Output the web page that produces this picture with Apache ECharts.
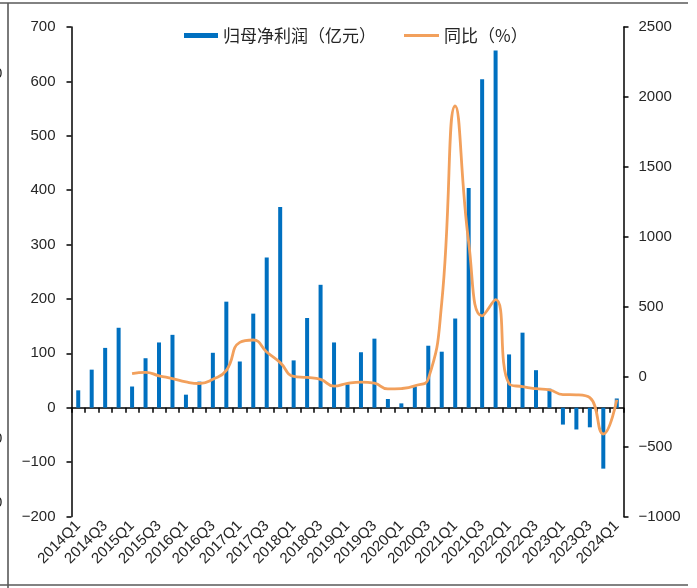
<!DOCTYPE html>
<html>
<head>
<meta charset="utf-8">
<script src="https://cdn.jsdelivr.net/npm/echarts@6/dist/echarts.min.js"></script>
<style>
  html, body { margin: 0; padding: 0; background: #fff; }
  #chart { width: 697px; height: 588px; }
</style>
</head>
<body>
<div id="chart"></div>
<script>
// Quarterly net profit attributable to parent (bars, 亿元) and YoY growth (line, %)
const categories = [
  '2014Q1','2014Q2','2014Q3','2014Q4',
  '2015Q1','2015Q2','2015Q3','2015Q4',
  '2016Q1','2016Q2','2016Q3','2016Q4',
  '2017Q1','2017Q2','2017Q3','2017Q4',
  '2018Q1','2018Q2','2018Q3','2018Q4',
  '2019Q1','2019Q2','2019Q3','2019Q4',
  '2020Q1','2020Q2','2020Q3','2020Q4',
  '2021Q1','2021Q2','2021Q3','2021Q4',
  '2022Q1','2022Q2','2022Q3','2022Q4',
  '2023Q1','2023Q2','2023Q3','2023Q4',
  '2024Q1'
];

const netProfit = [
  32, 70, 110, 147,
  39, 91, 120, 134,
  24, 48, 101, 195,
  85, 173, 276, 369,
  87, 165, 226, 120,
  43, 102, 127, 16,
  8, 39, 114, 103,
  164, 404, 604, 657,
  98, 138, 69, 35,
  -31, -40, -36, -112,
  17
];

const yoyGrowth = [
  null, null, null, null,
  22, 31, 6, -14,
  -38, -49, -19, 45,
  245, 262, 176, 100,
  2, -6, -20, -68,
  -48, -39, -47, -88,
  -85, -66, -16, 530,
  1935, 960, 435, 550,
  -50, -72, -86, -95,
  -128, -130, -150, -410,
  -165
];

const leftAxis = { min: -200, max: 700, interval: 100 };
const rightAxis = { min: -1000, max: 2500, interval: 500 };

const seriesNames = ['归母净利润（亿元）', '同比（%）'];

const barColor = '#0070C0';
const lineColor = '#F2A05C';
const textColor = '#262626';
const numFont = "'Liberation Sans', Arial, sans-serif";
const cjkFont = "'Noto Sans CJK SC', sans-serif";

const minusFmt = v => String(v).replace('-', '\u2212');

const chart = echarts.init(document.getElementById('chart'), null, { renderer: 'canvas' });

chart.setOption({
  animation: false,
  backgroundColor: '#ffffff',
  grid: { left: 71.5, right: 73.5, top: 27, bottom: 71.5, containLabel: false },
  legend: [
    {
      data: [{ name: seriesNames[0], icon: 'rect' }],
      left: 184, top: 27, padding: 0,
      itemWidth: 34, itemHeight: 5, itemGap: 4,
      textStyle: { fontFamily: cjkFont, fontSize: 17, color: textColor }
    },
    {
      data: [{ name: seriesNames[1], icon: 'rect' }],
      left: 404, top: 27, padding: 0,
      itemWidth: 35, itemHeight: 3, itemGap: 4,
      textStyle: { fontFamily: cjkFont, fontSize: 17, color: textColor }
    }
  ],
  xAxis: [
    {
      type: 'category',
      data: categories,
      position: 'bottom',
      boundaryGap: true,
      axisLine: { show: false, onZero: false },
      axisTick: { show: false },
      axisLabel: {
        interval: 1,
        rotate: 45,
        margin: 7,
        fontFamily: numFont,
        fontSize: 15,
        color: textColor
      },
      splitLine: { show: false }
    },
    {
      type: 'category',
      data: categories,
      position: 'bottom',
      boundaryGap: true,
      axisLine: { show: true, onZero: true, onZeroAxisIndex: 0, lineStyle: { color: '#000', width: 1.5 } },
      axisTick: { show: true, interval: 0, length: 5, inside: false, lineStyle: { color: '#000', width: 1.5 } },
      axisLabel: { show: false },
      splitLine: { show: false }
    }
  ],
  yAxis: [
    {
      type: 'value',
      min: leftAxis.min, max: leftAxis.max, interval: leftAxis.interval,
      position: 'left',
      axisLine: { show: true, onZero: false, lineStyle: { color: '#000', width: 1.5 } },
      axisTick: { show: true, length: 5, lineStyle: { color: '#000', width: 1.5 } },
      axisLabel: { margin: 16, fontFamily: numFont, fontSize: 15, color: textColor, formatter: minusFmt },
      splitLine: { show: false }
    },
    {
      type: 'value',
      min: rightAxis.min, max: rightAxis.max, interval: rightAxis.interval,
      position: 'right',
      axisLine: { show: true, onZero: false, lineStyle: { color: '#000', width: 1.5 } },
      axisTick: { show: true, length: 5, lineStyle: { color: '#000', width: 1.5 } },
      axisLabel: { margin: 15, fontFamily: numFont, fontSize: 15, color: textColor, formatter: minusFmt },
      splitLine: { show: false }
    }
  ],
  series: [
    {
      name: seriesNames[0],
      type: 'bar',
      xAxisIndex: 0,
      yAxisIndex: 0,
      data: netProfit,
      barWidth: 4,
      itemStyle: { color: barColor },
      z: 2
    },
    {
      name: seriesNames[1],
      type: 'line',
      xAxisIndex: 0,
      yAxisIndex: 1,
      data: yoyGrowth,
      smooth: 0.5,
      showSymbol: false,
      symbol: 'none',
      lineStyle: { color: lineColor, width: 2.8 },
      itemStyle: { color: lineColor },
      z: 3
    }
  ],
  graphic: [
    // outer frame
    { type: 'line', shape: { x1: 0, y1: 3, x2: 688, y2: 3 }, style: { stroke: '#595959', lineWidth: 1.6 } },
    { type: 'line', shape: { x1: 0, y1: 585, x2: 688, y2: 585 }, style: { stroke: '#595959', lineWidth: 1.6 } },
    { type: 'line', shape: { x1: 8, y1: 3, x2: 8, y2: 588 }, style: { stroke: '#595959', lineWidth: 1.6 } },
    // edge of the neighbouring panel
    { type: 'text', left: -6, top: 66, style: { text: '0', font: '15px ' + numFont, fill: textColor } },
    { type: 'text', left: -6, top: 431, style: { text: '0', font: '15px ' + numFont, fill: textColor } },
    { type: 'text', left: -6, top: 495, style: { text: '0', font: '15px ' + numFont, fill: textColor } }
  ]
});
</script>
</body>
</html>
